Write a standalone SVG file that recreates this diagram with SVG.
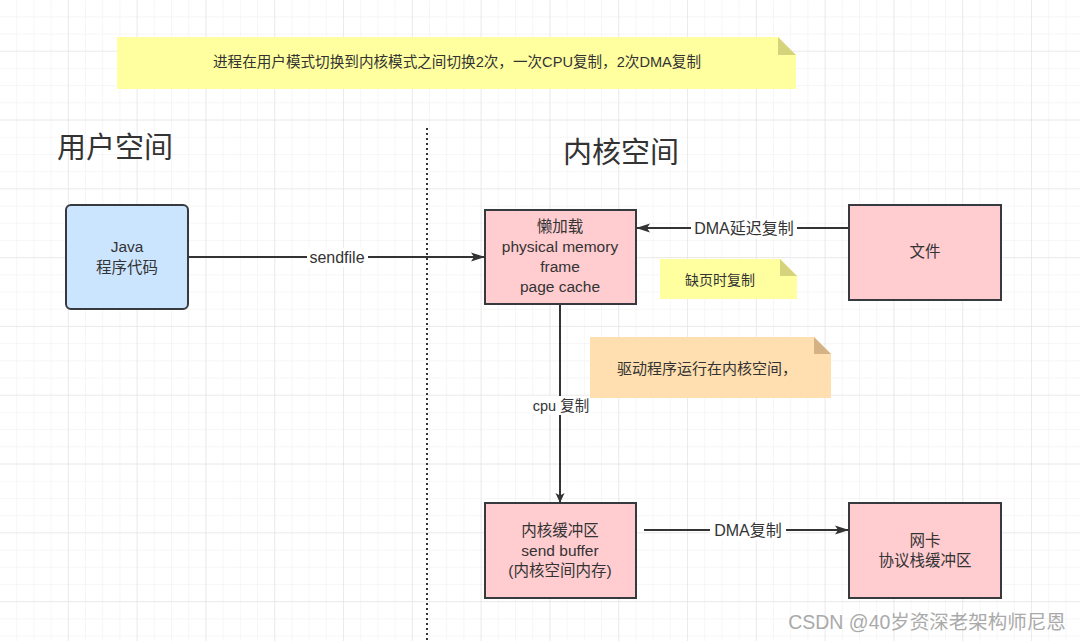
<svg xmlns="http://www.w3.org/2000/svg" width="1080" height="641" viewBox="0 0 1080 641">
<defs>
<pattern id="minor" width="17.2" height="17.2" patternUnits="userSpaceOnUse" y="-17.1">
<path d="M17.2 0V17.2M0 17.2H17.2" fill="none" stroke="#eeeeee" stroke-width="1"/>
</pattern>
<pattern id="major" width="68.8" height="68.8" patternUnits="userSpaceOnUse" y="-17.1">
<path d="M68.8 0V68.8M0 68.8H68.8" fill="none" stroke="#e0e0e0" stroke-width="1"/>
</pattern>
<marker id="arr" viewBox="0 0 10 10" refX="9" refY="5" markerWidth="10" markerHeight="10" markerUnits="userSpaceOnUse" orient="auto">
<path d="M0 0.5L10 5L0 9.5L2.5 5Z" fill="#333"/>
</marker>
<marker id="arrB" viewBox="0 0 14 10" refX="13" refY="5" markerWidth="14" markerHeight="10" markerUnits="userSpaceOnUse" orient="auto">
<path d="M0 0.5L14 5L0 9.5L3 5Z" fill="#333"/>
</marker>
</defs>
<style>
text{font-family:"Liberation Sans","Noto Sans CJK SC",sans-serif;fill:#333;text-anchor:middle}
.box{stroke:#36393d;stroke-width:2}
.pink{fill:#ffccd0}
.edge{stroke:#333;stroke-width:2;fill:none}
.lbl{font-size:16px}
.bt{font-size:15.5px}
.lab{fill:#fff}
</style>
<rect width="1080" height="641" fill="#fff"/>
<rect width="1080" height="641" fill="url(#minor)"/>
<rect width="1080" height="641" fill="url(#major)"/>

<g id="note-top">
<path d="M117 37H778L796 55V89H117Z" fill="#ffffa0"/>
<path d="M778 37L796 55H778Z" fill="#d5d37c"/>
<text x="457" y="67" style="font-size:14.6px">进程在用户模式切换到内核模式之间切换2次，一次CPU复制，2次DMA复制</text>
</g>

<g id="title-user"><text x="57" y="158" style="font-size:29px;text-anchor:start">用户空间</text></g>
<g id="title-kernel"><text x="563" y="163" style="font-size:29px;text-anchor:start">内核空间</text></g>

<g id="divider"><line x1="427" y1="128" x2="427" y2="641" stroke="#333" stroke-width="2" stroke-dasharray="2 3"/></g>

<g id="connectors">
<line class="edge" x1="189" y1="257" x2="484" y2="257" marker-end="url(#arrB)"/>
<rect class="lab" x="307" y="248" width="61" height="19"/>
<text class="lbl" x="337" y="263">sendfile</text>

<line class="edge" x1="849" y1="228" x2="637" y2="228" marker-end="url(#arrB)"/>
<rect class="lab" x="691" y="219" width="106" height="19"/>
<text class="lbl" x="744" y="234">DMA延迟复制</text>

<line class="edge" x1="560" y1="305" x2="560" y2="502" marker-end="url(#arr)"/>
<rect class="lab" x="530" y="396" width="62" height="19"/>
<text x="561" y="411" style="font-size:14.5px">cpu 复制</text>

<line class="edge" x1="644" y1="530" x2="848" y2="530" marker-end="url(#arrB)"/>
<rect class="lab" x="710" y="521" width="76" height="19"/>
<text class="lbl" x="748" y="536">DMA复制</text>
</g>

<g id="java">
<rect class="box" x="66" y="205" width="122" height="104" rx="5" fill="#cce5ff"/>
<text class="bt" x="127" y="252">Java</text>
<text class="bt" x="127" y="273">程序代码</text>
</g>

<g id="pagecache">
<rect class="box pink" x="485" y="210" width="151" height="94"/>
<text class="bt" x="560" y="232">懒加载</text>
<text class="bt" x="560" y="252">physical memory</text>
<text class="bt" x="560" y="272">frame</text>
<text class="bt" x="560" y="292">page cache</text>
</g>

<g id="file">
<rect class="box pink" x="849" y="205" width="152" height="95"/>
<text class="bt" x="925" y="257">文件</text>
</g>

<g id="note-fault">
<path d="M660 259H780L797 276V299H660Z" fill="#ffffa0"/>
<path d="M780 259L797 276H780Z" fill="#d5d37c"/>
<text x="720" y="285" style="font-size:14px">缺页时复制</text>
</g>

<g id="note-driver">
<path d="M590 337H814L831 354V398H590Z" fill="#ffdfaf"/>
<path d="M814 337L831 354H814Z" fill="#d4b283"/>
<text x="707" y="374" style="font-size:15px">驱动程序运行在内核空间，</text>
</g>

<g id="sendbuffer">
<rect class="box pink" x="485" y="503" width="151" height="95"/>
<text class="bt" x="560" y="536">内核缓冲区</text>
<text class="bt" x="560" y="556">send buffer</text>
<text class="bt" x="560" y="576">(内核空间内存)</text>
</g>

<g id="nic">
<rect class="box pink" x="849" y="503" width="152" height="95"/>
<text class="bt" x="925" y="546">网卡</text>
<text class="bt" x="925" y="566">协议栈缓冲区</text>
</g>

<g id="watermark"><text x="927" y="629" style="font-size:19.5px;fill:#aaa">CSDN @40岁资深老架构师尼恩</text></g>
</svg>
